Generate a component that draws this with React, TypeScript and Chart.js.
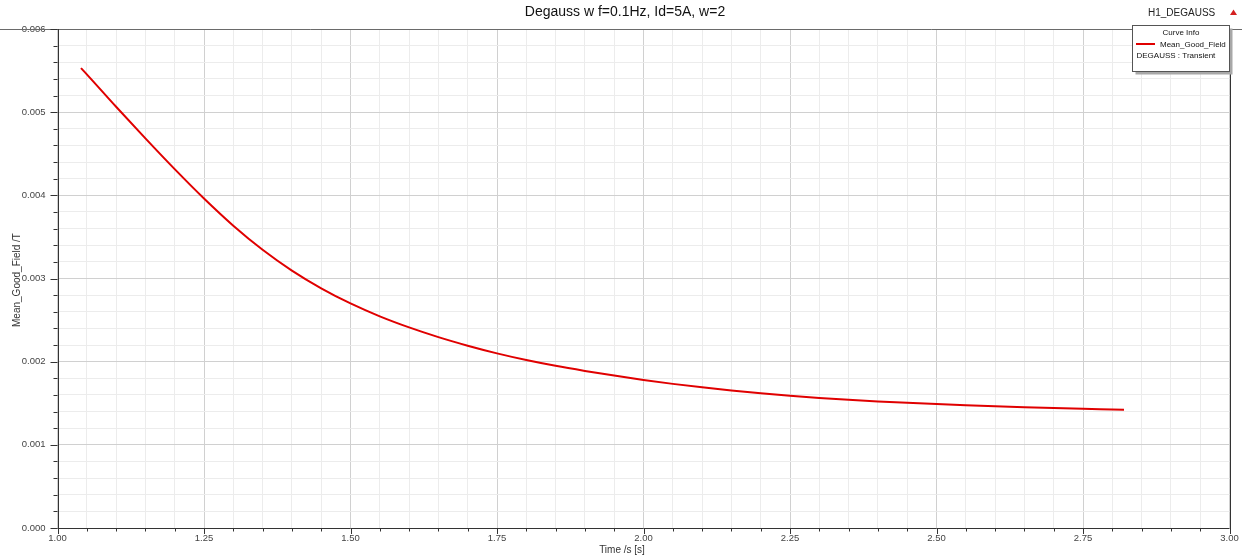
import React, { useEffect, useRef } from "react";
import { Chart, registerables } from "chart.js";

Chart.register(...registerables);

// Texts
const chartTitle = "Degauss w f=0.1Hz, Id=5A, w=2";
const designName = "H1_DEGAUSS";
const legendHeader = "Curve Info";
const seriesName = "Mean_Good_Field";
const seriesSource = "DEGAUSS : Transient";
const xAxisLabel = "Time /s [s]";
const yAxisLabel = "Mean_Good_Field /T";

// Series: mean field in the good-field region versus time
const timeValues = [
  1.04, 1.05, 1.1, 1.15, 1.2, 1.25, 1.3, 1.35, 1.4, 1.45, 1.5, 1.55, 1.6, 1.65,
  1.7, 1.75, 1.8, 1.85, 1.9, 1.95, 2.0, 2.05, 2.1, 2.15, 2.2, 2.25, 2.3, 2.35,
  2.4, 2.45, 2.5, 2.55, 2.6, 2.65, 2.7, 2.75, 2.8, 2.82,
];
const fieldValues = [
  0.00553, 0.005455, 0.005065, 0.004685, 0.004315, 0.003962, 0.003635,
  0.003345, 0.003095, 0.002882, 0.0027, 0.002545, 0.002412, 0.002295,
  0.002192, 0.0021, 0.00202, 0.00195, 0.001889, 0.001833, 0.00178, 0.001733,
  0.001692, 0.001654, 0.00162, 0.00159, 0.001564, 0.001541, 0.001522,
  0.001505, 0.00149, 0.001476, 0.001463, 0.001452, 0.001442, 0.001433,
  0.001426, 0.001423,
];

// Axis ticks
const xTickLabels = ["1.00", "1.25", "1.50", "1.75", "2.00", "2.25", "2.50", "2.75", "3.00"];
const yTickLabels = ["0.000", "0.001", "0.002", "0.003", "0.004", "0.005", "0.006"];
const xMinorPerMajor = 5;
const yMinorPerMajor = 5;

const FONT = "'Liberation Sans', Arial, sans-serif";

function buildTicks(labels: string[], perMajor: number): number[] {
  const majors = labels.map(Number);
  const out: number[] = [];
  for (let i = 0; i < majors.length; i++) {
    out.push(majors[i]);
    if (i < majors.length - 1) {
      const step = (majors[i + 1] - majors[i]) / perMajor;
      for (let k = 1; k < perMajor; k++) out.push(majors[i] + step * k);
    }
  }
  return out;
}

function majorLabel(labels: string[], v: number): string | null {
  for (const l of labels) {
    if (Math.abs(Number(l) - v) < 1e-9) return l;
  }
  return null;
}

const xTicks = buildTicks(xTickLabels, xMinorPerMajor);
const yTicks = buildTicks(yTickLabels, yMinorPerMajor);

// Frame, tick marks and annotation boxes
const framePlugin = {
  id: "frame",
  afterDraw(chart: any) {
    const ctx = chart.ctx as CanvasRenderingContext2D;
    const { left, right, top, bottom } = chart.chartArea;
    const xs = chart.scales.x;
    const ys = chart.scales.y;
    ctx.save();

    // borders
    ctx.lineWidth = 1;
    ctx.strokeStyle = "#6a6a6a";
    ctx.beginPath();
    ctx.moveTo(0, top + 0.5);
    ctx.lineTo(1242, top + 0.5);
    ctx.stroke();
    ctx.strokeStyle = "#333";
    ctx.beginPath();
    ctx.moveTo(Math.round(right) + 0.5, top);
    ctx.lineTo(Math.round(right) + 0.5, bottom);
    ctx.moveTo(Math.round(left) + 0.5, top);
    ctx.lineTo(Math.round(left) + 0.5, bottom);
    ctx.moveTo(left, Math.round(bottom) + 0.5);
    ctx.lineTo(right, Math.round(bottom) + 0.5);
    ctx.stroke();

    // tick marks
    ctx.beginPath();
    for (const v of xTicks) {
      const px = Math.round(xs.getPixelForValue(v)) + 0.5;
      const len = majorLabel(xTickLabels, v) ? 6 : 3.5;
      ctx.moveTo(px, bottom);
      ctx.lineTo(px, bottom + len);
    }
    for (const v of yTicks) {
      const py = Math.round(ys.getPixelForValue(v)) + 0.5;
      const len = majorLabel(yTickLabels, v) ? 7 : 4;
      ctx.moveTo(left - len, py);
      ctx.lineTo(left, py);
    }
    ctx.stroke();

    // title
    ctx.fillStyle = "#111";
    ctx.textAlign = "center";
    ctx.textBaseline = "middle";
    ctx.font = `14px ${FONT}`;
    ctx.fillText(chartTitle, 625, 12);

    // axis titles
    ctx.fillStyle = "#333";
    ctx.font = `10px ${FONT}`;
    ctx.fillText(xAxisLabel, 622, 550);
    ctx.save();
    ctx.translate(17, 280);
    ctx.rotate(-Math.PI / 2);
    ctx.fillText(yAxisLabel, 0, 0);
    ctx.restore();

    // design name and marker
    ctx.fillStyle = "#222";
    ctx.textAlign = "left";
    ctx.font = `10px ${FONT}`;
    ctx.fillText(designName, 1148, 13);
    ctx.fillStyle = "#d42020";
    ctx.beginPath();
    ctx.moveTo(1233.5, 9.5);
    ctx.lineTo(1237, 15);
    ctx.lineTo(1230, 15);
    ctx.closePath();
    ctx.fill();

    // legend box with shadow
    const bx = 1132.5, by = 25.5, bw = 97, bh = 46;
    ctx.fillStyle = "#a8a8a8";
    ctx.fillRect(bx + 3, by + 3, bw, bh);
    ctx.fillStyle = "#fff";
    ctx.fillRect(bx, by, bw, bh);
    ctx.strokeStyle = "#555";
    ctx.lineWidth = 1;
    ctx.strokeRect(bx, by, bw, bh);

    ctx.fillStyle = "#111";
    ctx.font = `8px ${FONT}`;
    ctx.textAlign = "center";
    ctx.fillText(legendHeader, bx + bw / 2, 32.5);
    ctx.strokeStyle = "#e00000";
    ctx.lineWidth = 2;
    ctx.beginPath();
    ctx.moveTo(1136, 44);
    ctx.lineTo(1155, 44);
    ctx.stroke();
    ctx.textAlign = "left";
    ctx.fillText(seriesName, 1160, 44.5);
    ctx.fillText(seriesSource, 1136.5, 55.5);

    ctx.restore();
  },
};

export default function App() {
  const canvasRef = useRef<HTMLCanvasElement | null>(null);

  useEffect(() => {
    if (!canvasRef.current) return;
    const points = timeValues.map((t, i) => ({ x: t, y: fieldValues[i] }));

    const chart = new Chart(canvasRef.current, {
      type: "line",
      data: {
        datasets: [
          {
            label: seriesName,
            data: points,
            borderColor: "#e00000",
            borderWidth: 2,
            pointRadius: 0,
            fill: false,
            cubicInterpolationMode: "monotone",
          },
        ],
      },
      plugins: [framePlugin],
      options: {
        animation: false,
        responsive: true,
        maintainAspectRatio: false,
        layout: { padding: { left: 0, right: 12.5, top: 29, bottom: 0 } },
        plugins: {
          legend: { display: false },
          title: { display: false },
          tooltip: { enabled: false },
        },
        scales: {
          x: {
            type: "linear",
            min: 1,
            max: 3,
            afterBuildTicks: (scale: any) => {
              scale.ticks = xTicks.map((v) => ({ value: v }));
            },
            afterFit: (scale: any) => {
              scale.height = 29;
              scale.paddingLeft = 0;
              scale.paddingRight = 0;
            },
            border: { display: false },
            grid: {
              drawTicks: false,
              color: (c: any) =>
                majorLabel(xTickLabels, c.tick?.value) ? "#d0d0d0" : "#ececec",
              lineWidth: 1,
            },
            ticks: {
              autoSkip: false,
              maxRotation: 0,
              minRotation: 0,
              padding: 5,
              color: "#444",
              font: { family: FONT, size: 9.5 },
              callback: (v: any) => majorLabel(xTickLabels, Number(v)) ?? "",
            },
          },
          y: {
            type: "linear",
            min: 0,
            max: 0.006,
            afterBuildTicks: (scale: any) => {
              scale.ticks = yTicks.map((v) => ({ value: v }));
            },
            afterFit: (scale: any) => {
              scale.width = 57.5;
              scale.paddingTop = 0;
              scale.paddingBottom = 0;
            },
            border: { display: false },
            grid: {
              drawTicks: false,
              color: (c: any) =>
                majorLabel(yTickLabels, c.tick?.value) ? "#d0d0d0" : "#ececec",
              lineWidth: 1,
            },
            ticks: {
              autoSkip: false,
              padding: 12,
              color: "#444",
              font: { family: FONT, size: 9.5 },
              callback: (v: any) => majorLabel(yTickLabels, Number(v)) ?? "",
            },
          },
        },
      },
    });

    return () => chart.destroy();
  }, []);

  return (
    <div
      style={{
        position: "absolute",
        left: 0,
        top: 0,
        width: 1242,
        height: 557,
        background: "#fff",
      }}
    >
      <canvas ref={canvasRef} />
    </div>
  );
}
